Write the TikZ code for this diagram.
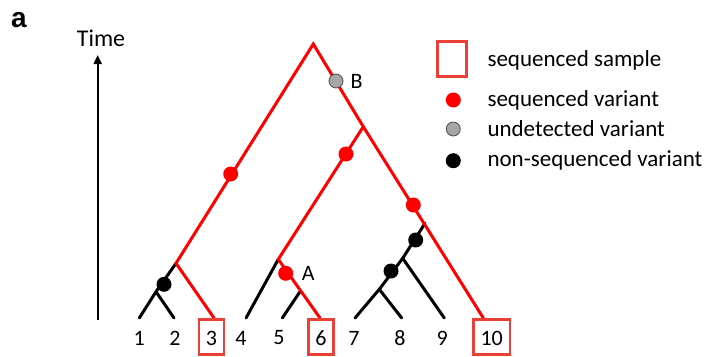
\documentclass[tikz,border=0pt]{standalone}
\usepackage{fontspec}
\setmainfont{Carlito}
\newfontfamily\arialb{Liberation Sans}
\usetikzlibrary{arrows.meta}
\definecolor{treered}{RGB}{255,0,0}
\definecolor{boxred}{RGB}{234,64,54}
\definecolor{graydot}{RGB}{166,166,166}
\tikzset{
  redline/.style={draw=treered, line width=3pt, line cap=round},
  blkline/.style={draw=black, line width=3pt, line cap=round},
  reddot/.style={circle, fill=treered, inner sep=0pt, minimum size=15pt},
  blkdot/.style={circle, fill=black, inner sep=0pt, minimum size=15pt},
  graydotst/.style={circle, fill=graydot, draw=black!70, line width=0.8pt, inner sep=0pt, minimum size=14pt},
  lab/.style={font=\fontsize{22}{24}\selectfont, inner sep=0pt},
  leaf/.style={font=\fontsize{22}{24}\selectfont, inner sep=0pt},
  sbox/.style={draw=boxred, line width=2.6pt, inner sep=0pt, minimum width=25pt, minimum height=35pt},
  legtext/.style={font=\fontsize{23}{25}\selectfont, anchor=west, inner sep=0pt},
}
\begin{document}
\begin{tikzpicture}[x=1pt,y=-1pt]
\useasboundingbox (0,0) rectangle (709,356);
% panel label and time axis
\node[font=\arialb\bfseries\fontsize{28}{30}\selectfont, inner sep=0pt] (plabel) at (19,20) {a};
\node[font=\fontsize{24}{26}\selectfont, inner sep=0pt] (time) at (101,38) {Time};
\coordinate (tbot) at (97.7,320);
\coordinate (ttop) at (97.7,55);
\draw[line width=2pt, -{Triangle[length=9pt,width=8pt]}] (tbot) -- (ttop);

% tree coordinates
\coordinate (root) at (313.3,44);
\coordinate (jR) at (363.3,126.7);
\coordinate (jL) at (176,263.3);
\coordinate (s12) at (156,291.7);
\coordinate (l1) at (139.3,318);
\coordinate (l2) at (174,318);
\coordinate (l3) at (214,318);
\coordinate (jM) at (278.3,259.3);
\coordinate (s56) at (300,291.7);
\coordinate (l4) at (246,318);
\coordinate (l5) at (282.3,318);
\coordinate (l6) at (320,318);
\coordinate (jB) at (425,223.3);
\coordinate (j9) at (402.7,258.3);
\coordinate (s78) at (379.3,289.3);
\coordinate (l7) at (355,318);
\coordinate (l8) at (401.7,318);
\coordinate (l9) at (444.3,318);
\coordinate (l10) at (483.3,318);

% black branches
\draw[blkline] (jL) -- (s12) -- (l1);
\draw[blkline] (s12) -- (l2);
\draw[blkline] (jM) -- (l4);
\draw[blkline] (s56) -- (l5);
\draw[blkline] (jB) -- (j9) -- (s78) -- (l7);
\draw[blkline] (s78) -- (l8);
\draw[blkline] (j9) -- (l9);

% red branches
\draw[redline, line join=miter] (l3) -- (jL) -- (root) -- (jR) -- (l10);
\draw[redline] (jR) -- (jM) -- (l6);

% dots
\node[reddot] (dL) at (230.7,174) {};
\node[reddot] (dM) at (346,154) {};
\node[reddot] (dA) at (285.7,273.3) {};
\node[reddot] (dR) at (413.3,205) {};
\node[graydotst] (dB) at (336,81) {};
\node[blkdot] (k1) at (164,284.3) {};
\node[blkdot] (k2) at (415.7,240) {};
\node[blkdot] (k3) at (391,271) {};

\node[lab] (labA) at (308.3,273.3) {A};
\node[lab] (labB) at (356.7,81) {B};

% leaf labels
\node[leaf] (n1) at (139.3,338) {1};
\node[leaf] (n2) at (175,338) {2};
\node[leaf] (n3) at (211.5,338) {3};
\node[leaf] (n4) at (241,338) {4};
\node[leaf] (n5) at (279,338) {5};
\node[leaf] (n6) at (321,338) {6};
\node[leaf] (n7) at (354,338) {7};
\node[leaf] (n8) at (400,338) {8};
\node[leaf] (n9) at (442.3,338) {9};
\node[leaf] (n10) at (491.7,338) {10};
\node[sbox] (b3) at (211.5,337.2) {};
\node[sbox] (b6) at (321.2,337.2) {};
\node[sbox, minimum width=36.7pt] (b10) at (491.7,337.2) {};

% legend
\node[sbox, minimum width=29pt, minimum height=35pt] (lgbox) at (452.2,59.2) {};
\node[legtext] (lt1) at (487.3,60) {sequenced sample};
\node[reddot] (lgr) at (453.3,100) {};
\node[legtext] (lt2) at (487.3,100) {sequenced variant};
\node[graydotst] (lgg) at (453.3,129) {};
\node[legtext] (lt3) at (487.3,129) {undetected variant};
\node[blkdot] (lgk) at (453.3,160.7) {};
\node[legtext] (lt4) at (487.3,160.7) {non-sequenced variant};
\end{tikzpicture}
\end{document}
